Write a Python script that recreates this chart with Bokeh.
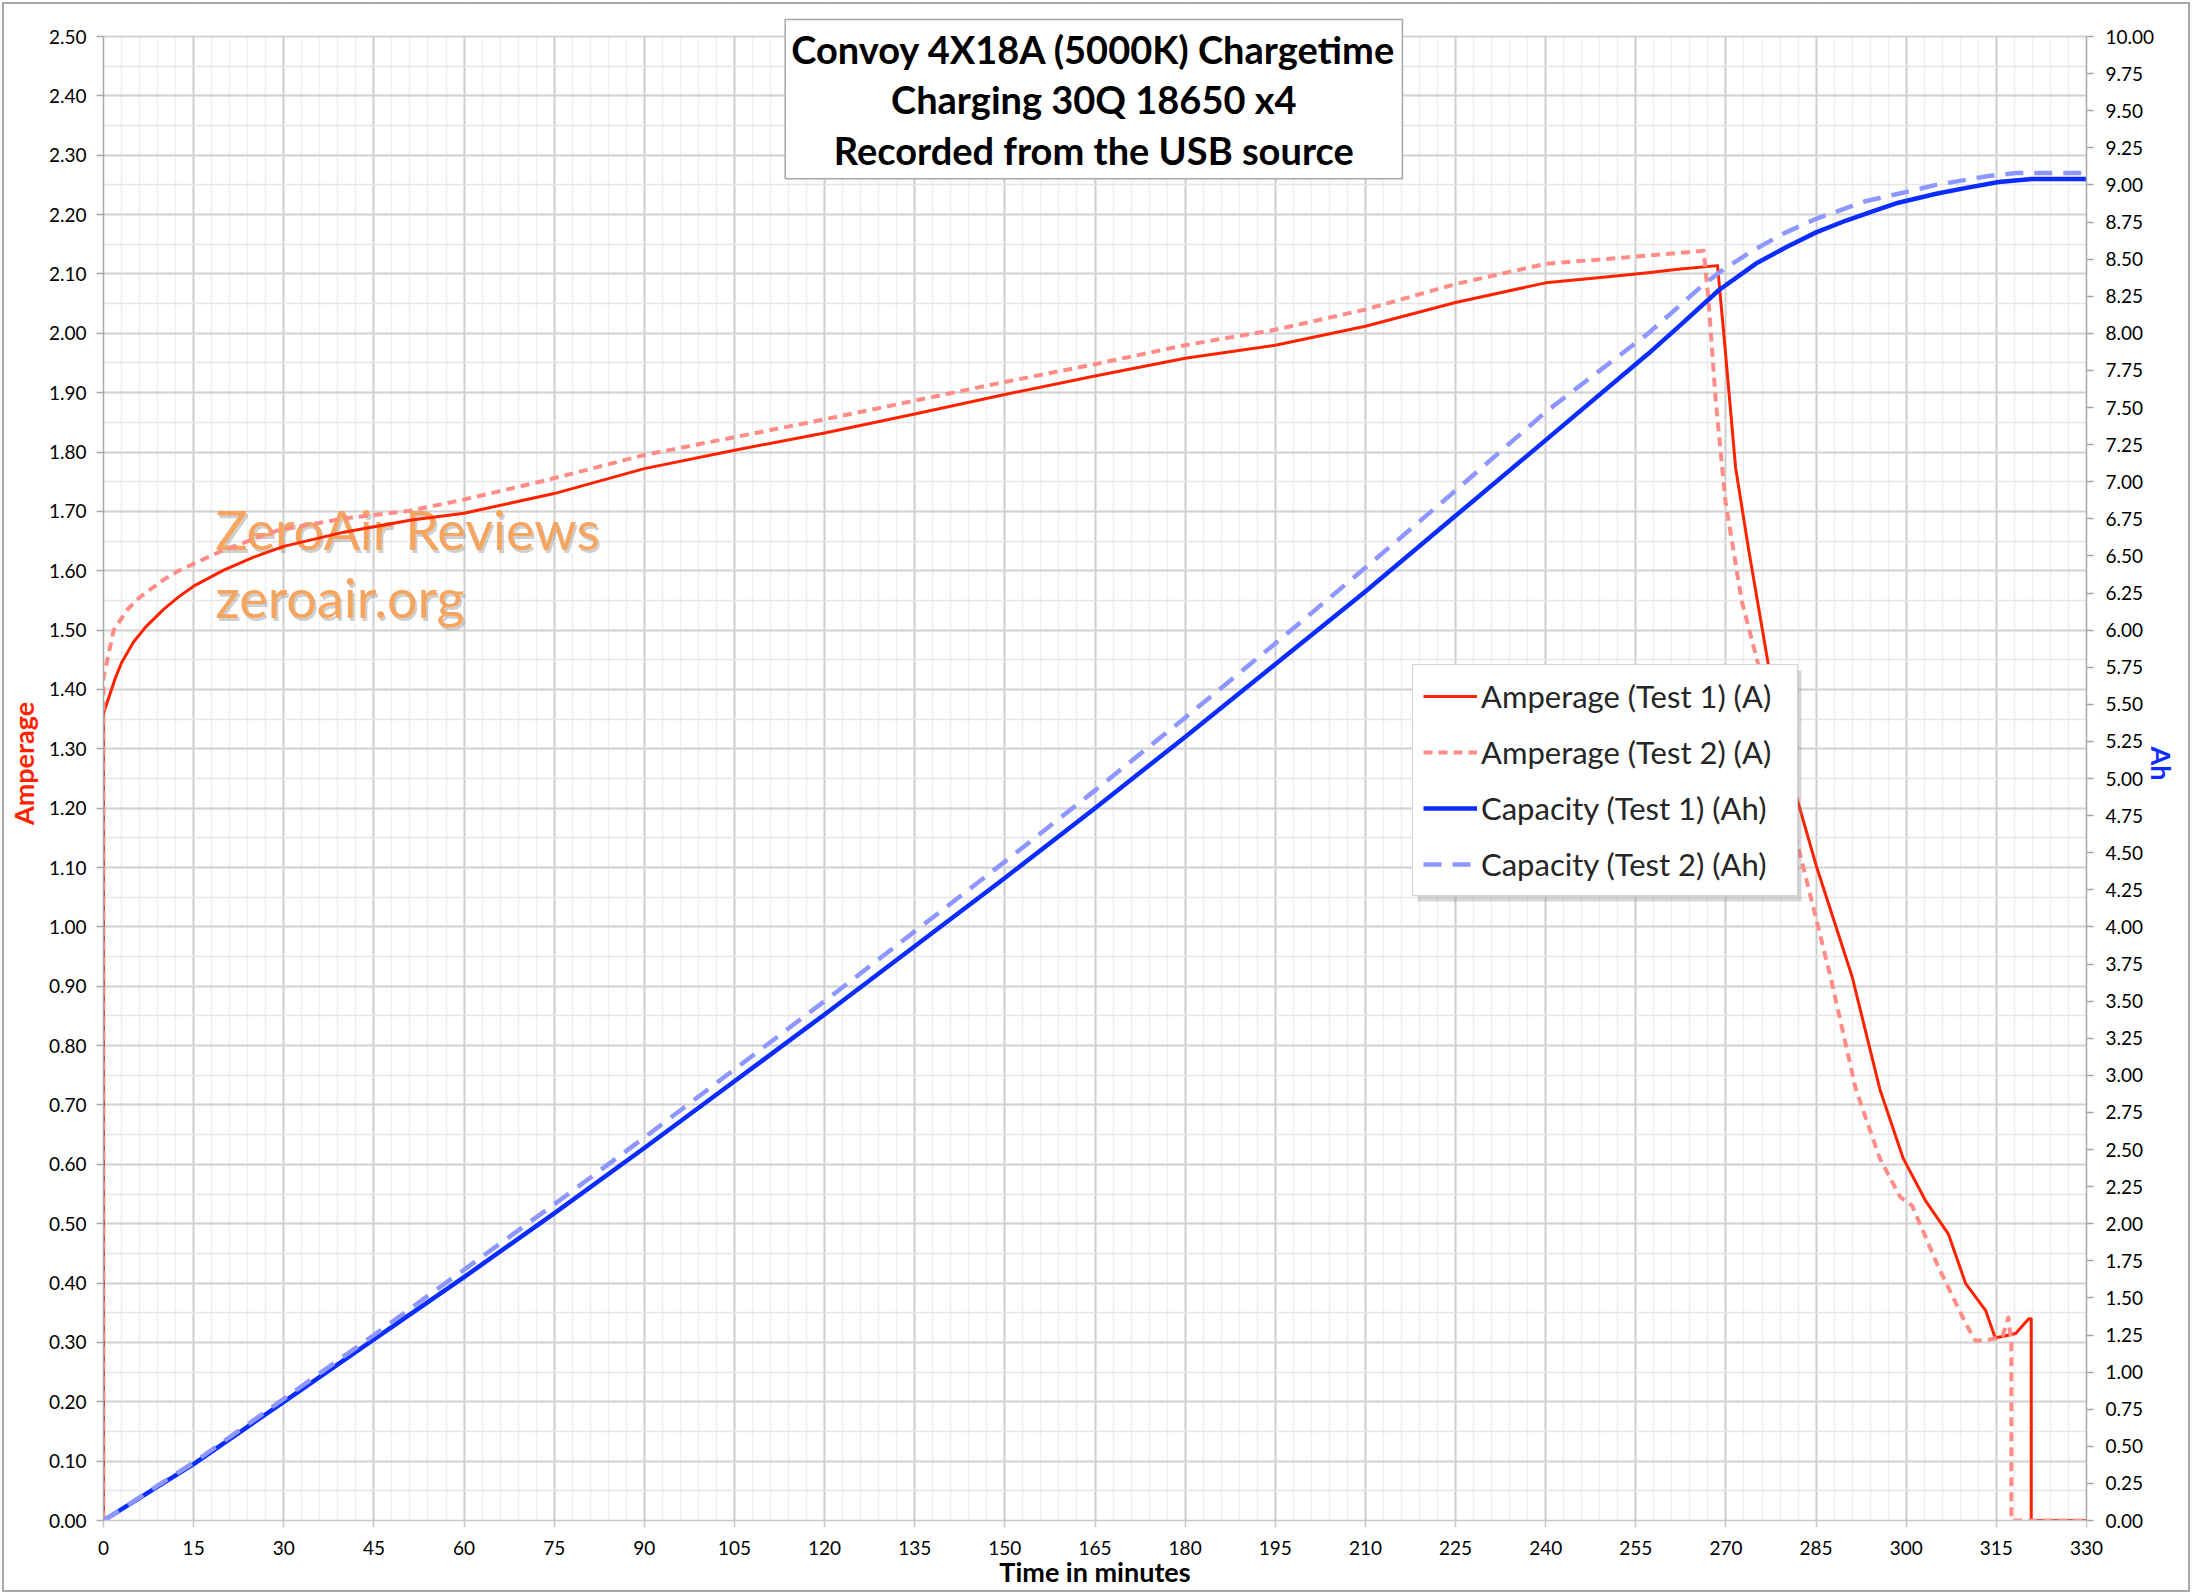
from bokeh.plotting import figure
from bokeh.models import (Range1d, LinearAxis, FixedTicker, PrintfTickFormatter, Label,
                          BoxAnnotation)
from bokeh.embed import file_html
from bokeh.resources import INLINE

# ---------------- data ----------------
time_t1 = [0, 0, 1, 2, 3, 5, 7, 10, 12.5, 15, 20, 25, 30, 40, 51, 60, 75, 90, 105, 120,
           135, 150, 165, 180, 195, 210, 225, 240, 250, 257, 262, 268.6, 269.9, 271.6,
           273.8, 277, 281, 285, 291, 295.6, 299.5, 303.2, 307, 309.9, 313.2, 314.8,
           316, 318.2, 320.4, 320.8, 320.8, 330]
amp_t1 = [0.0, 1.36, 1.39, 1.42, 1.445, 1.48, 1.505, 1.535, 1.556, 1.574, 1.601, 1.623,
          1.641, 1.665, 1.685, 1.697, 1.73, 1.772, 1.803, 1.832, 1.864, 1.897, 1.928,
          1.958, 1.98, 2.012, 2.052, 2.085, 2.095, 2.102, 2.108, 2.114, 1.97, 1.774,
          1.634, 1.445, 1.245, 1.104, 0.916, 0.727, 0.61, 0.539, 0.483, 0.399, 0.354,
          0.308, 0.31, 0.315, 0.34, 0.34, 0.0, 0.0]

time_t2 = [0, 0, 1.7, 4, 6, 10, 12.5, 20, 29, 40, 51, 60, 73.5, 90, 105, 120, 150, 165,
           180, 195, 210, 225, 240, 257, 266.3, 267.1, 268.3, 269.9, 272.6, 275.3, 279,
           282.8, 287.4, 291.6, 295.6, 299, 301, 305.4, 309.9, 311.5, 314, 316, 317,
           317.5, 317.5, 330]
amp_t2 = [0.0, 1.42, 1.50, 1.535, 1.555, 1.585, 1.60, 1.635, 1.668, 1.688, 1.701, 1.72,
          1.752, 1.795, 1.825, 1.855, 1.918, 1.948, 1.98, 2.006, 2.04, 2.083, 2.117,
          2.131, 2.139, 2.055, 1.887, 1.718, 1.55, 1.445, 1.245, 1.104, 0.916, 0.727,
          0.61, 0.545, 0.53, 0.426, 0.332, 0.303, 0.305, 0.31, 0.342, 0.30, 0.0, 0.0]

cap_time_t1 = [0, 15, 30, 45, 60, 75, 90, 105, 120, 135, 150, 165, 180, 195, 210, 225,
               240, 257, 262, 268.8, 275, 280, 285, 290, 295, 298.7, 305, 310, 315.4,
               320.9, 330]
cap_t1 = [0.0, 0.38, 0.80, 1.22, 1.64, 2.07, 2.51, 2.96, 3.41, 3.87, 4.33, 4.80, 5.28,
          5.77, 6.26, 6.77, 7.28, 7.86, 8.04, 8.29, 8.47, 8.58, 8.68, 8.76, 8.83, 8.88,
          8.94, 8.98, 9.02, 9.04, 9.04]

cap_time_t2 = [0, 15, 30, 45, 60, 75, 90, 105, 120, 135, 150, 165, 180, 195, 210, 225,
               240, 257.1, 266.3, 269.9, 275, 280, 284.9, 293.2, 298.7, 305, 313.7, 318.2,
               330]
cap_t2 = [0.0, 0.39, 0.82, 1.25, 1.69, 2.13, 2.58, 3.04, 3.50, 3.97, 4.44, 4.92, 5.41,
          5.91, 6.42, 6.94, 7.47, 8.00, 8.33, 8.44, 8.57, 8.68, 8.77, 8.89, 8.94, 9.00,
          9.06, 9.08, 9.08]

x_ticks = list(range(0, 331, 15))
x_minor_ticks = list(range(0, 331, 3))
amp_ticks = [round(i * 0.1, 2) for i in range(26)]
amp_minor_ticks = [round(i * 0.05, 2) for i in range(51)]
ah_ticks = [round(i * 0.25, 2) for i in range(41)]

title_text = "Convoy 4X18A (5000K) Chargetime\nCharging 30Q 18650 x4\nRecorded from the USB source"

FONT = "Lato"

# plot area: 1983 x 1484 px for 0..330 min and 0..2.5 A; 30 px of headroom above
# the 2.50 line so that the title box can rise above the top gridline.
HEAD = 30
AMP_TOP = 2.5 * (1484 + HEAD) / 1484
AH_TOP = 10 * (1484 + HEAD) / 1484

# ---------------- figure ----------------
p = figure(frame_width=1983, frame_height=1484 + HEAD,
           x_range=Range1d(0, 330), y_range=Range1d(0, AMP_TOP),
           output_backend="svg", toolbar_location=None,
           min_border_left=103, min_border_right=106, min_border_top=36 - HEAD,
           min_border_bottom=74,
           background_fill_color="white", border_fill_color="white",
           border_fill_alpha=0.0, outline_line_color=None)
p.styles = {"outline": "2px solid #A8A8A8", "outline-offset": "-4px",
            "background-color": "white"}
p.extra_y_ranges = {"ah": Range1d(0, AH_TOP)}

# grids
p.xgrid.ticker = FixedTicker(ticks=x_ticks, minor_ticks=x_minor_ticks)
p.ygrid.ticker = FixedTicker(ticks=amp_ticks, minor_ticks=amp_minor_ticks)
p.xgrid.grid_line_color = "#CFCFCF"
p.xgrid.grid_line_width = 2
p.xgrid.minor_grid_line_color = "#EFEFEF"
p.xgrid.minor_grid_line_width = 1.5
p.ygrid.grid_line_color = "#D4D4D4"
p.ygrid.grid_line_width = 2
p.ygrid.minor_grid_line_color = "#E6E6E6"
p.ygrid.minor_grid_line_width = 1.5

# white headroom above the 2.50 line
p.add_layout(BoxAnnotation(left=0, right=330, bottom=2.5 + 1.2 / 593.6, top=AMP_TOP,
                           fill_color="white", fill_alpha=1.0, line_color=None))

# axes
xa = p.xaxis[0]
xa.ticker = FixedTicker(ticks=x_ticks, minor_ticks=x_minor_ticks)
xa.axis_label = "Time in minutes"
ya = p.yaxis[0]
ya.ticker = FixedTicker(ticks=amp_ticks, minor_ticks=amp_minor_ticks)
ya.formatter = PrintfTickFormatter(format="%.2f")
ya.axis_label = "Amperage"
ya.axis_label_text_color = "#FF2200"
ya.bounds = (0, 2.5)

ra = LinearAxis(y_range_name="ah", axis_label="Ah",
                ticker=FixedTicker(ticks=ah_ticks),
                formatter=PrintfTickFormatter(format="%.2f"))
p.add_layout(ra, "right")
ra.axis_label_text_color = "#0A2CFF"
ra.bounds = (0, 10)

for ax in (xa, ya, ra):
    ax.axis_line_color = "#A8A8A8"
    ax.axis_line_width = 1.5
    ax.major_tick_line_color = "#A8A8A8"
    ax.major_tick_line_width = 1.5
    ax.major_tick_in = 0
    ax.major_tick_out = 7
    ax.minor_tick_line_color = None
    ax.major_label_text_font = FONT
    ax.major_label_text_font_size = "19px"
    ax.major_label_text_color = "black"
    ax.axis_label_text_font = FONT
    ax.axis_label_text_font_style = "bold"
    ax.axis_label_text_font_size = "27px"
xa.axis_line_color = "#C8C8C8"
xa.major_tick_line_color = "#C8C8C8"
xa.axis_label_text_color = "black"
xa.major_label_standoff = 13
xa.axis_label_standoff = -3
ya.major_label_standoff = 10
ya.axis_label_standoff = 6
ra.major_label_standoff = 12
ra.axis_label_standoff = -12

# ---------------- series ----------------
p.line(time_t1, amp_t1, line_color="#FF2200", line_width=3, line_join="round",
       legend_label="Amperage (Test 1) (A)")
p.line(time_t2, amp_t2, line_color="#FF8C86", line_width=4, line_dash="9 6",
       line_join="round", legend_label="Amperage (Test 2) (A)")
p.line(cap_time_t1, cap_t1, y_range_name="ah", line_color="#0A2CFF", line_width=4.5,
       line_join="round", legend_label="Capacity (Test 1) (Ah)")
p.line(cap_time_t2, cap_t2, y_range_name="ah", line_color="#8E97FF", line_width=4.5,
       line_dash="18 11", line_join="round", legend_label="Capacity (Test 2) (Ah)")

# legend
lg = p.legend[0]
lg.location = (1309, 624)
lg.label_text_font = FONT
lg.label_text_font_size = "31px"
lg.label_text_color = "#262626"
lg.glyph_width = 54
lg.glyph_height = 42
lg.label_height = 42
lg.label_width = 306
lg.label_standoff = 4
lg.spacing = 14
lg.padding = 10
lg.margin = 0
lg.border_line_color = "#A8A8A8"
lg.border_line_width = 1.5
lg.background_fill_color = "white"
lg.background_fill_alpha = 1.0

# legend drop shadow (drawn underneath the legend)
p.add_layout(BoxAnnotation(left=(1419 - 105) / 6.009, right=(1803 - 105) / 6.009,
                           top=(1520 - 670) / 593.6, bottom=(1520 - 901) / 593.6,
                           fill_color="#7F7F7F", fill_alpha=0.3, line_color=None))
p.center = [r for r in p.center if r is not lg] + [lg]

# ---------------- title box ----------------
title_shadow = Label(x=164.8, y=2.5286, text=title_text, text_font=FONT,
                     text_font_style="bold", text_font_size="38px", text_align="center",
                     text_baseline="top", text_line_height=1.1, text_alpha=0,
                     background_fill_color="#7F7F7F", background_fill_alpha=0.35,
                     padding=6, x_offset=5, y_offset=-5, level="overlay")
title_lbl = Label(x=164.8, y=2.5286, text=title_text, text_font=FONT,
                  text_font_style="bold", text_font_size="38px", text_align="center",
                  text_baseline="top", text_line_height=1.1, text_color="black",
                  background_fill_color="white", background_fill_alpha=1.0,
                  border_line_color="#A8A8A8", border_line_width=1.5, padding=6,
                  level="overlay")
p.add_layout(title_shadow)
p.add_layout(title_lbl)

# ---------------- watermark ----------------
for txt, yy in (("ZeroAir Reviews", 1.615), ("zeroair.org", 1.50)):
    p.add_layout(Label(x=18.6, y=yy, text=txt, text_font=FONT, text_font_size="54px",
                       text_color="#8A8A8A", text_alpha=0.4, x_offset=2, y_offset=-3,
                       level="underlay"))
    p.add_layout(Label(x=18.6, y=yy, text=txt, text_font=FONT, text_font_size="54px",
                       text_color="#F7A45E", level="underlay"))

open("out.html", "w").write(file_html(p, INLINE))
